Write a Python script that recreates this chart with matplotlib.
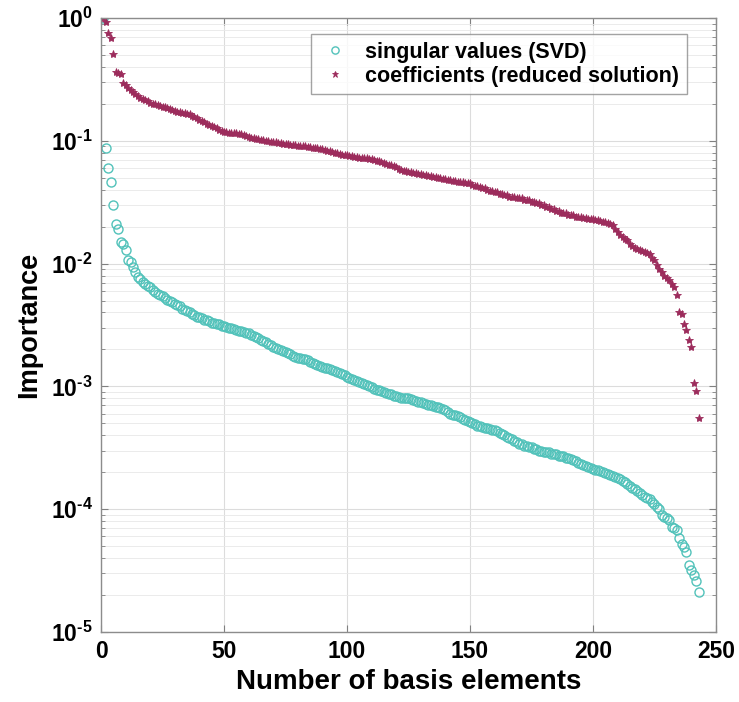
import numpy as np
import matplotlib
matplotlib.use("Agg")
import matplotlib.pyplot as plt
from matplotlib.ticker import LogLocator, FixedLocator, NullFormatter

plt.rcParams['font.family'] = ['Liberation Sans', 'DejaVu Sans']
plt.rcParams['font.weight'] = 'bold'
plt.rcParams['mathtext.fontset'] = 'custom'
plt.rcParams['mathtext.rm'] = 'Liberation Sans:bold'
plt.rcParams['mathtext.bf'] = 'Liberation Sans:bold'
plt.rcParams['mathtext.default'] = 'bf'

singular_values = [
    1.0, 0.087, 0.060, 0.046, 0.030, 0.021, 0.019, 0.015, 0.0145, 0.013,
    0.0106, 0.0103, 0.0094, 0.0086, 0.0078, 0.0075, 0.0071, 0.0068, 0.0066, 0.0064,
    0.0061, 0.0059, 0.0057, 0.0055, 0.0054, 0.0052, 0.0051, 0.0050, 0.0049, 0.0047,
    0.0046, 0.0045, 0.0043, 0.0042, 0.0041, 0.0040, 0.0039, 0.0038, 0.0037, 0.0037,
    0.0036, 0.0035, 0.0035, 0.0034, 0.0033, 0.0033, 0.0032, 0.0032, 0.0031, 0.0031,
    0.00305, 0.0030, 0.00297, 0.00293, 0.0029, 0.00285, 0.0028, 0.00276, 0.00272, 0.0027,
    0.00264, 0.00258, 0.00252, 0.00246, 0.0024, 0.00234, 0.00228, 0.00222, 0.00216, 0.0021,
    0.00206, 0.00202, 0.00198, 0.00194, 0.0019, 0.00186, 0.00182, 0.00178, 0.00174, 0.00171,
    0.00169, 0.00167, 0.00166, 0.00163, 0.00159, 0.00156, 0.00153, 0.0015, 0.00147, 0.00144,
    0.00142, 0.00140, 0.00138, 0.00136, 0.00133, 0.00131, 0.00129, 0.00126, 0.00123, 0.0012,
    0.00117, 0.00115, 0.00113, 0.0011, 0.00108, 0.00106, 0.00104, 0.00102, 0.001, 0.00098,
    0.00096, 0.00094, 0.00093, 0.00091, 0.0009, 0.00088, 0.00087, 0.00086, 0.00084, 0.00083,
    0.00082, 0.00081, 0.00081, 0.00081, 0.0008, 0.00079, 0.00077, 0.00076, 0.00075, 0.00074,
    0.00073, 0.00072, 0.00071, 0.0007, 0.00069, 0.00068, 0.00068, 0.00067, 0.00066, 0.00064,
    0.00062, 0.0006, 0.00059, 0.00058, 0.00057, 0.00056, 0.00054, 0.00053, 0.00052, 0.00051,
    0.0005, 0.00049, 0.00048, 0.00048, 0.00047, 0.00046, 0.00046, 0.00045, 0.00044, 0.00044,
    0.00043, 0.00042, 0.00041, 0.0004, 0.00039, 0.00038, 0.00037, 0.00036, 0.00035, 0.00034,
    0.00034, 0.00033, 0.00033, 0.00032, 0.00032, 0.00031, 0.00031, 0.0003, 0.0003, 0.00029,
    0.00029, 0.00029, 0.00028, 0.00028, 0.00028, 0.00027, 0.00027, 0.00027, 0.00026, 0.00026,
    0.000255, 0.00025, 0.000245, 0.00024, 0.000235, 0.00023, 0.000225, 0.00022, 0.000215, 0.000212,
    0.00021, 0.000207, 0.000203, 0.0002, 0.000197, 0.000193, 0.00019, 0.000186, 0.000183, 0.00018,
    0.000175, 0.00017, 0.000165, 0.00016, 0.000155, 0.00015, 0.000145, 0.00014, 0.000135, 0.00013,
    0.000126, 0.000123, 0.00012, 0.000115, 0.000111, 0.000105, 0.0001, 0.00009, 0.000087, 0.000085,
    8.2e-5, 7.2e-5, 7.0e-5, 6.8e-5, 5.8e-5, 5.2e-5, 4.9e-5, 4.5e-5, 3.5e-5, 3.2e-5,
    2.9e-5, 2.6e-5, 2.1e-5,
]

coefficients = [
    1.0, 0.92, 0.75, 0.69, 0.51, 0.36, 0.355, 0.35, 0.295, 0.285,
    0.27, 0.26, 0.25, 0.24, 0.23, 0.225, 0.22, 0.215, 0.21, 0.205,
    0.20, 0.20, 0.197, 0.193, 0.19, 0.187, 0.184, 0.181, 0.178, 0.175,
    0.173, 0.171, 0.169, 0.167, 0.166, 0.164, 0.16, 0.156, 0.152, 0.148,
    0.144, 0.141, 0.138, 0.135, 0.132, 0.129, 0.126, 0.123, 0.12, 0.118,
    0.117, 0.116, 0.116, 0.115, 0.115, 0.114, 0.113, 0.112, 0.11, 0.108,
    0.106, 0.105, 0.104, 0.103, 0.102, 0.101, 0.1, 0.099, 0.098, 0.098,
    0.097, 0.096, 0.096, 0.095, 0.094, 0.094, 0.093, 0.092, 0.092, 0.091,
    0.091, 0.09, 0.09, 0.089, 0.089, 0.088, 0.088, 0.087, 0.086, 0.085,
    0.084, 0.083, 0.082, 0.081, 0.08, 0.079, 0.078, 0.077, 0.076, 0.076,
    0.075, 0.075, 0.074, 0.074, 0.073, 0.073, 0.072, 0.072, 0.071, 0.071,
    0.070, 0.069, 0.068, 0.067, 0.066, 0.065, 0.064, 0.063, 0.062, 0.061,
    0.059, 0.058, 0.057, 0.057, 0.056, 0.056, 0.055, 0.055, 0.054, 0.054,
    0.053, 0.053, 0.052, 0.052, 0.051, 0.051, 0.05, 0.05, 0.049, 0.049,
    0.048, 0.048, 0.047, 0.047, 0.046, 0.046, 0.046, 0.045, 0.045, 0.045,
    0.044, 0.043, 0.043, 0.042, 0.041, 0.041, 0.04, 0.039, 0.039, 0.038,
    0.038, 0.037, 0.037, 0.036, 0.036, 0.035, 0.035, 0.035, 0.034, 0.034,
    0.034, 0.033, 0.033, 0.033, 0.032, 0.032, 0.031, 0.031, 0.030, 0.030,
    0.029, 0.029, 0.028, 0.028, 0.027, 0.027, 0.026, 0.026, 0.026, 0.025,
    0.025, 0.025, 0.024, 0.024, 0.024, 0.0235, 0.0235, 0.023, 0.023, 0.023,
    0.0225, 0.0225, 0.0222, 0.022, 0.0218, 0.0215, 0.021, 0.0205, 0.019, 0.018,
    0.017, 0.0165, 0.016, 0.0155, 0.0145, 0.014, 0.0135, 0.0132, 0.013, 0.0127,
    0.0125, 0.0122, 0.012, 0.0112, 0.0106, 0.0098, 0.009, 0.0085, 0.008, 0.0076,
    0.0073, 0.0068, 0.0064, 0.0056, 0.0040, 0.0039, 0.0032, 0.0029, 0.0024, 0.0021,
    0.00107, 0.00091, 0.00055,
]

x_ticks = [0, 50, 100, 150, 200, 250]
y_ticks = [1e0, 1e-1, 1e-2, 1e-3, 1e-4, 1e-5]
y_tick_labels = ['$10^{0}$', '$10^{\u20101}$', '$10^{\u20102}$', '$10^{\u20103}$',
                 '$10^{\u20104}$', '$10^{\u20105}$']

n_sv = np.arange(1, len(singular_values) + 1)
n_cf = np.arange(1, len(coefficients) + 1)

W, H = 739, 702
L, R, T, B = 101, 716, 18, 632
fig = plt.figure(figsize=(W / 100, H / 100), dpi=100)
ax = fig.add_axes([L / W, 1 - B / H, (R - L) / W, (B - T) / H])

ax.plot(n_sv, singular_values, linestyle='none', marker='o', markersize=6.5,
        markerfacecolor='none', markeredgecolor='#52c2ba', markeredgewidth=1.0,
        label='singular values (SVD)')
ax.plot(n_cf, coefficients, linestyle='none', marker='*', markersize=6,
        color='#9c2c5c', markeredgewidth=0.6,
        label='coefficients (reduced solution)')

ax.set_yscale('log')
ax.set_xlim(0, 250)
ax.set_ylim(1e-5, 1)
ax.xaxis.set_major_locator(FixedLocator(x_ticks))
ax.yaxis.set_major_locator(FixedLocator(y_ticks))
ax.set_yticklabels(y_tick_labels)
ax.yaxis.set_minor_locator(LogLocator(base=10, subs=np.arange(2, 10), numticks=20))
ax.yaxis.set_minor_formatter(NullFormatter())

ax.grid(True, which='major', color='#dcdcdc', linewidth=0.8)
ax.grid(True, which='minor', axis='y', color='#e8e8e8', linewidth=0.6)
ax.set_axisbelow(True)

ax.tick_params(which='both', direction='in', top=True, right=True, colors='#808080',
               labelcolor='black', labelsize=16.5)
ax.tick_params(which='major', length=5, pad=6)
ax.tick_params(which='minor', length=3)
for s in ax.spines.values():
    s.set_color('#8c8c8c')
    s.set_linewidth(1.0)

ax.set_xlabel('Number of basis elements', fontsize=20, fontweight='bold', labelpad=4)
ax.set_ylabel('Importance', fontsize=19.5, fontweight='bold', labelpad=6)

leg = ax.legend(loc='upper right', bbox_to_anchor=((687 - L) / (R - L), (B - 34) / (B - T)),
                fontsize=15.5, frameon=True, fancybox=False, edgecolor='#8c8c8c',
                markerscale=0.8, handlelength=1.6, handletextpad=0.6,
                borderpad=0.35, labelspacing=0.15, borderaxespad=0)
leg.get_frame().set_linewidth(1.0)

fig.savefig('out.png', dpi=100)
